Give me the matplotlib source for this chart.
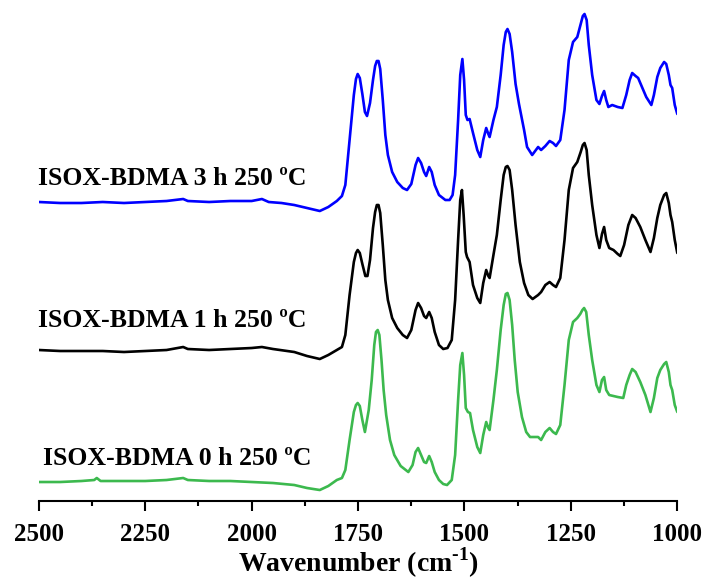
import matplotlib
matplotlib.use("Agg")
import matplotlib.pyplot as plt
from matplotlib.ticker import MultipleLocator

plt.rcParams["font.family"] = ["Liberation Serif", "DejaVu Serif"]
plt.rcParams["font.weight"] = "bold"
plt.rcParams["mathtext.fontset"] = "custom"
plt.rcParams["mathtext.rm"] = "Liberation Serif:bold"
plt.rcParams["mathtext.bf"] = "Liberation Serif:bold"

# FTIR spectra, wavenumber (cm-1) vs absorbance (a.u., relative to 2500 cm-1)
wn_3h = [2500, 2450, 2400, 2350, 2300, 2250, 2200, 2161, 2150, 2100, 2050, 2000, 1976, 1960,
         1930, 1900, 1870, 1840, 1820, 1800, 1788, 1780, 1770, 1760, 1755, 1751, 1746, 1740,
         1734, 1729, 1722, 1715, 1710, 1706, 1702, 1698, 1692, 1686, 1680, 1670, 1658, 1645,
         1635, 1625, 1615, 1609, 1602, 1595, 1590, 1583, 1577, 1570, 1560, 1545, 1535, 1528,
         1522, 1515, 1510, 1505, 1501, 1497, 1493, 1488, 1480, 1470, 1463, 1456, 1449, 1444,
         1441, 1432, 1424, 1415, 1408, 1403, 1399, 1394, 1388, 1380, 1372, 1360, 1353, 1341,
         1327, 1320, 1310, 1300, 1292, 1285, 1275, 1265, 1255, 1245, 1235, 1227, 1222, 1218,
         1213, 1208, 1200, 1190, 1183, 1177, 1172, 1167, 1162, 1153, 1140, 1129, 1120, 1112,
         1106, 1098, 1092, 1080, 1073, 1061, 1055, 1047, 1040, 1031, 1026, 1020, 1016, 1012,
         1006, 1000]
abs_3h = [0, -1, -1, 0, -1, 0, 1, 3, 1, 0, 1, 1, 3, 0,
          -1, -3, -6, -9, -5, 1, 6, 17, 62, 107, 123, 128, 124, 108,
          90, 86, 99, 122, 136, 141, 141, 133, 102, 67, 47, 30, 20, 14,
          12, 18, 37, 44, 39, 30, 26, 35, 30, 17, 7, 2, 2, 7,
          27, 82, 127, 143, 122, 87, 82, 83, 69, 52, 45, 62, 74, 68,
          65, 82, 95, 127, 157, 170, 173, 168, 150, 118, 98, 72, 55, 47,
          55, 52, 56, 61, 59, 56, 62, 92, 142, 160, 165, 178, 186, 188,
          182, 157, 127, 102, 98, 106, 111, 102, 95, 97, 95, 94, 107, 122,
          129, 126, 124, 112, 105, 97, 107, 125, 134, 140, 138, 127, 117, 114,
          97, 88]

wn_1h = [2500, 2450, 2400, 2350, 2300, 2250, 2200, 2161, 2150, 2100, 2050, 2000, 1976, 1950,
         1900, 1870, 1840, 1820, 1800, 1788, 1780, 1770, 1760, 1755, 1751, 1746, 1740, 1733,
         1728, 1722, 1715, 1710, 1706, 1702, 1698, 1692, 1686, 1680, 1670, 1658, 1645, 1635,
         1625, 1615, 1609, 1602, 1595, 1590, 1583, 1577, 1570, 1560, 1550, 1540, 1530, 1522,
         1515, 1510, 1506, 1502, 1497, 1494, 1488, 1480, 1470, 1463, 1456, 1449, 1444, 1441,
         1432, 1424, 1415, 1408, 1403, 1399, 1394, 1388, 1380, 1370, 1360, 1350, 1340, 1327,
         1320, 1310, 1300, 1292, 1285, 1275, 1265, 1255, 1245, 1235, 1227, 1222, 1218, 1213,
         1208, 1200, 1190, 1183, 1177, 1172, 1167, 1160, 1150, 1140, 1134, 1125, 1115, 1106,
         1098, 1087, 1075, 1063, 1055, 1047, 1040, 1031, 1026, 1020, 1016, 1012, 1006, 1000]
abs_1h = [0, -1, -1, -1, -2, -1, 0, 3, 1, 0, 1, 2, 3, 1,
          -2, -6, -9, -5, 0, 3, 15, 55, 88, 97, 100, 97, 86, 74,
          74, 90, 122, 138, 145, 145, 137, 105, 70, 50, 32, 22, 15, 12,
          20, 40, 47, 42, 34, 32, 38, 32, 18, 5, 1, 2, 10, 50,
          110, 150, 160, 135, 98, 93, 88, 65, 52, 47, 67, 80, 74, 72,
          95, 115, 150, 175, 183, 184, 180, 160, 125, 88, 67, 55, 51, 55,
          58, 65, 68, 65, 63, 72, 110, 160, 182, 188, 198, 205, 207, 200,
          175, 145, 115, 102, 116, 123, 110, 102, 100, 96, 94, 105, 125, 135,
          132, 123, 110, 98, 112, 132, 145, 155, 157, 147, 135, 128, 110, 97]

wn_0h = [2500, 2450, 2400, 2370, 2364, 2355, 2300, 2250, 2200, 2161, 2150, 2100, 2050, 2000,
         1950, 1900, 1870, 1840, 1820, 1800, 1788, 1780, 1770, 1760, 1755, 1751, 1746, 1740,
         1734, 1725, 1718, 1712, 1708, 1704, 1700, 1695, 1690, 1684, 1675, 1665, 1650, 1632,
         1622, 1615, 1609, 1602, 1595, 1590, 1583, 1577, 1570, 1560, 1550, 1541, 1530, 1522,
         1515, 1510, 1505, 1501, 1497, 1492, 1487, 1480, 1470, 1463, 1456, 1449, 1444, 1441,
         1432, 1424, 1415, 1408, 1403, 1399, 1394, 1388, 1382, 1375, 1365, 1355, 1346, 1327,
         1320, 1310, 1300, 1292, 1285, 1275, 1265, 1255, 1245, 1235, 1228, 1223, 1219, 1214,
         1208, 1200, 1190, 1183, 1177, 1172, 1167, 1160, 1150, 1140, 1127, 1120, 1112, 1106,
         1098, 1087, 1075, 1063, 1055, 1047, 1040, 1031, 1026, 1020, 1016, 1012, 1006, 1000]
abs_0h = [0, 0, 1, 2, 4, 1, 1, 1, 2, 4, 2, 1, 1, 0,
          -1, -3, -6, -8, -4, 2, 4, 12, 42, 70, 77, 79, 76, 62,
          50, 72, 102, 137, 150, 152, 147, 122, 92, 67, 42, 27, 16, 10,
          17, 30, 34, 27, 20, 19, 26, 20, 10, 2, -2, -3, 2, 27,
          82, 117, 129, 107, 74, 70, 69, 52, 35, 29, 47, 60, 54, 52,
          82, 112, 152, 177, 188, 189, 182, 157, 122, 90, 65, 50, 45, 45,
          42, 50, 54, 50, 48, 57, 97, 142, 160, 164, 168, 172, 174, 170,
          147, 122, 97, 90, 102, 105, 92, 87, 86, 85, 84, 97, 107, 113,
          110, 100, 87, 70, 84, 104, 112, 118, 120, 110, 97, 92, 77, 70]

labels = ["ISOX-BDMA 0 h 250 ºC", "ISOX-BDMA 1 h 250 ºC", "ISOX-BDMA 3 h 250 ºC"]
colors = ["#3cb94e", "black", "blue"]
offsets = [19, 151, 299]
label_y = [43, 181, 323]
label_x = [2490, 2502, 2502]

fig = plt.figure(figsize=(7.07, 5.79), dpi=100)
ax = fig.add_axes([0.055, 0.1347, 0.903, 0.8653])

spectra = [(wn_0h, abs_0h), (wn_1h, abs_1h), (wn_3h, abs_3h)]
for (wn, ab), off, col, lab, lx, ly in zip(spectra, offsets, colors, labels, label_x, label_y):
    ax.plot(wn, [a + off for a in ab], color=col, lw=1.9,
            solid_joinstyle="round", solid_capstyle="round")
    ax.text(lx, ly, lab, ha="left", va="center", fontsize=18.5, fontweight="bold")

ax.set_xlim(2500, 1000)
ax.set_ylim(0, 501)
ax.xaxis.set_major_locator(MultipleLocator(250))
ax.xaxis.set_minor_locator(MultipleLocator(125))
ax.tick_params(axis="x", which="major", direction="out", length=7.5, width=1.5,
               labelsize=18, pad=8)
ax.tick_params(axis="x", which="minor", direction="out", length=3.8, width=1.5)
ax.set_yticks([])
for side in ["top", "left", "right"]:
    ax.spines[side].set_visible(False)
ax.spines["bottom"].set_linewidth(1.5)
ax.set_xlabel("Wavenumber (cm$^{\u2010\\mathbf{1}}$)", fontsize=20, fontweight="bold",
              labelpad=0)

fig.savefig("out.png", dpi=100)
